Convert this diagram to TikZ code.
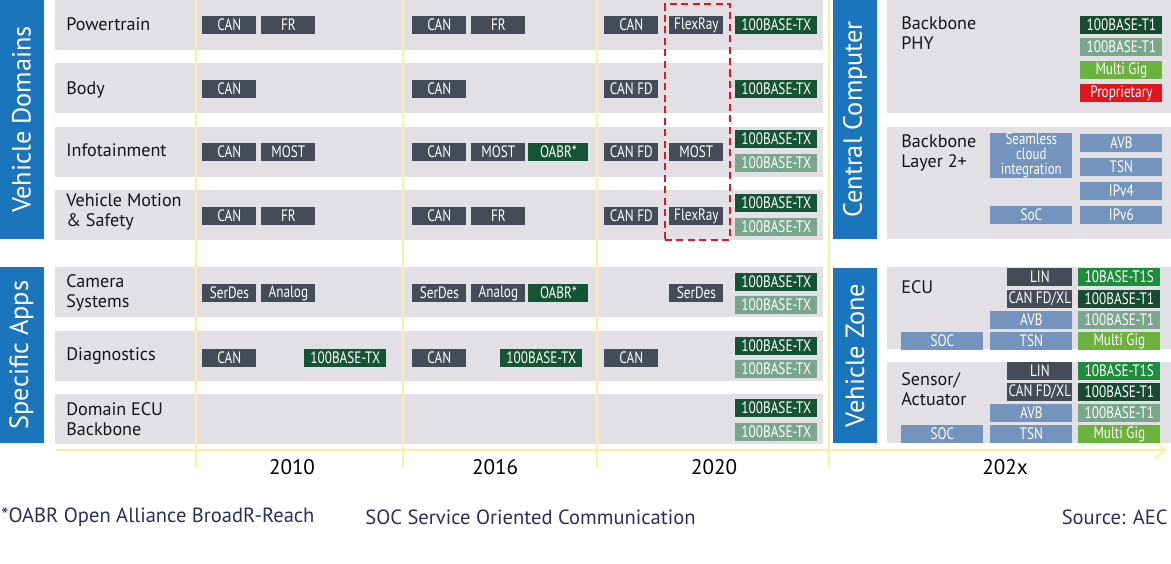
\documentclass[tikz,border=0pt]{standalone}
\usepackage{fontspec}
\setmainfont{PT Sans}
\newfontfamily\chipfont{PT Sans}[FakeStretch=0.8]
\usepackage{xcolor}
\definecolor{barblue}{RGB}{27,117,188}
\definecolor{bandgray}{RGB}{226,224,229}
\definecolor{chipdark}{RGB}{70,75,88}
\definecolor{txdark}{RGB}{22,84,54}
\definecolor{txpale}{RGB}{122,166,142}
\definecolor{tonedark}{RGB}{24,76,50}
\definecolor{tones}{RGB}{30,140,60}
\definecolor{multigig}{RGB}{108,178,62}
\definecolor{propred}{RGB}{222,24,30}
\definecolor{steel}{RGB}{116,148,190}
\definecolor{yline}{RGB}{250,240,160}
\definecolor{notenavy}{RGB}{44,46,96}
\usepackage{tikz}
\usetikzlibrary{arrows.meta}

\begin{document}
\begin{tikzpicture}[
    x=0.2mm, y=-0.2mm,
    sidebar/.style ={rectangle, fill=barblue, text=white, rotate=90,
                   minimum height=8.8mm, inner sep=0pt,
                   font=\fontsize{15}{17}\selectfont},
    band/.style   ={rectangle, fill=bandgray, anchor=north west,
                   inner sep=0pt, minimum width=153.6mm, minimum height=9.9mm},
    panel/.style  ={rectangle, fill=bandgray, anchor=north west,
                   inner sep=0pt, minimum width=56.8mm},
    rowlabel/.style ={anchor=west, align=left, text=black!92, inner sep=0pt,
                   font=\fontsize{10.3}{11.6}\selectfont},
    chip/.style   ={rectangle, anchor=north west, inner sep=0pt,
                   minimum width=10.8mm, minimum height=3.5mm, text=white,
                   font=\chipfont\fontsize{9.4}{9.6}\selectfont, align=center,
                   fill=chipdark},
    wide/.style   ={chip, minimum width=16.4mm},
    txd/.style    ={wide, fill=txdark},
    txp/.style    ={wide, fill=txpale},
    t1d/.style    ={wide, fill=tonedark},
    t1s/.style    ={wide, fill=tones},
    mgig/.style   ={wide, fill=multigig},
    prop/.style   ={wide, fill=propred},
    stl/.style    ={wide, fill=steel},
    zonedark/.style ={chip, minimum width=13mm},
    gridline/.style ={yline, line width=1pt},
    year/.style   ={text=black, font=\fontsize{12}{14}\selectfont},
    note/.style   ={text=notenavy, inner sep=0pt, font=\fontsize{11.7}{13}\selectfont}
]
\useasboundingbox (0,0) rectangle (1171,564);

%% --- side bars ---
\node[sidebar, minimum width=47.8mm] (vd) at (21.5,119.5) {Vehicle Domains};
\node[sidebar, minimum width=35.2mm] (sa) at (21.5,355) {Specific Apps};
\node[sidebar, minimum width=47.8mm] (cc) at (855,119.5) {Central Computer};
\node[sidebar, minimum width=35mm]   (vz) at (855,355.5) {Vehicle Zone};

%% --- rows of the left part ---
\node[band] (pt)  at (55,0)   {};
\node[band] (bo)  at (55,63)  {};
\node[band] (inf) at (55,127) {};
\node[band] (vm)  at (55,190) {};
\node[band] (cs)  at (55,267) {};
\node[band] (dg)  at (55,331) {};
\node[band] (de)  at (55,394) {};

%% --- panels of the right part ---
\node[panel, minimum height=22.6mm] (phy) at (887,0)   {};
\node[panel, minimum height=22.4mm] (lay) at (887,127) {};
\node[panel, minimum height=16.4mm] (ecu) at (887,267) {};
\node[panel, minimum height=16.2mm] (sen) at (887,362) {};

%% --- time grid ---
\draw[gridline] (196,0) -- (196,468);
\draw[gridline] (403,0) -- (403,468);
\draw[gridline] (597,0) -- (597,468);
\draw[gridline] (829,0) -- (829,468);
\coordinate (t0) at (56,450);
\coordinate (t1) at (1167,450);
\draw[gridline, -{Straight Barb[length=2.2mm, width=3.6mm]}] (t0) -- (t1);

%% --- row labels ---
\node[rowlabel] (lpt)  at (66,24)  {Powertrain};
\node[rowlabel] (lbo)  at (66,90)  {Body};
\node[rowlabel] (linf) at (66,150) {Infotainment};
\node[rowlabel] (lvm)  at (66,212) {Vehicle Motion\\\& Safety};
\node[rowlabel] (lcs)  at (66,293) {Camera\\Systems};
\node[rowlabel] (ldg)  at (66,356) {Diagnostics};
\node[rowlabel] (lde)  at (66,419) {Domain ECU\\Backbone};
\node[rowlabel, anchor=north west] (lphy) at (901,16)  {Backbone\\PHY};
\node[rowlabel, anchor=north west] (llay) at (901,134) {Backbone\\Layer 2+};
\node[rowlabel] (lecu) at (901,287) {ECU};
\node[rowlabel] (lsen) at (901,389) {Sensor/\\Actuator};

%% --- Powertrain ---
\node[chip] (pt1) at (202,16) {CAN};
\node[chip] (pt2) at (261,16) {FR};
\node[chip] (pt3) at (412,16) {CAN};
\node[chip] (pt4) at (471,16) {FR};
\node[chip] (pt5) at (604,16) {CAN};
\node[chip] (pt6) at (669,16) {FlexRay};
\node[txd]  (pt7) at (735,16) {100BASE-TX};
%% --- Body ---
\node[chip] (bo1) at (202,80) {CAN};
\node[chip] (bo2) at (412,80) {CAN};
\node[chip] (bo3) at (604,80) {CAN FD};
\node[txd]  (bo4) at (735,80) {100BASE-TX};
%% --- Infotainment ---
\node[chip] (in1) at (202,143) {CAN};
\node[chip] (in2) at (261,143) {MOST};
\node[chip] (in3) at (412,143) {CAN};
\node[chip] (in4) at (471,143) {MOST};
\node[chip, fill=txdark, minimum width=12mm] (in5) at (528,143) {OABR*};
\node[chip] (in6) at (604,143) {CAN FD};
\node[chip] (in7) at (669,143) {MOST};
\node[txd]  (in8) at (735,130) {100BASE-TX};
\node[txp]  (in9) at (735,154) {100BASE-TX};
%% --- Vehicle Motion & Safety ---
\node[chip] (vm1) at (202,207) {CAN};
\node[chip] (vm2) at (261,207) {FR};
\node[chip] (vm3) at (412,207) {CAN};
\node[chip] (vm4) at (471,207) {FR};
\node[chip] (vm5) at (604,207) {CAN FD};
\node[chip] (vm6) at (669,207) {FlexRay};
\node[txd]  (vm7) at (735,194) {100BASE-TX};
\node[txp]  (vm8) at (735,218) {100BASE-TX};
%% --- FlexRay column ---
\node[draw=propred, line width=1.1pt, dash pattern=on 4pt off 2.5pt,
      anchor=north west, minimum width=13mm, minimum height=47.2mm,
      inner sep=0pt] (frbox) at (664,3) {};

%% --- Camera Systems ---
\node[chip] (cs1) at (202,284) {SerDes};
\node[chip] (cs2) at (261,284) {Analog};
\node[chip] (cs3) at (412,284) {SerDes};
\node[chip] (cs4) at (471,284) {Analog};
\node[chip, fill=txdark, minimum width=12mm] (cs5) at (528,284) {OABR*};
\node[chip] (cs6) at (669,284) {SerDes};
\node[txd]  (cs7) at (735,273) {100BASE-TX};
\node[txp]  (cs8) at (735,296) {100BASE-TX};
%% --- Diagnostics ---
\node[chip] (dg1) at (202,349) {CAN};
\node[txd]  (dg2) at (304,349) {100BASE-TX};
\node[chip] (dg3) at (412,349) {CAN};
\node[txd]  (dg4) at (500,349) {100BASE-TX};
\node[chip] (dg5) at (604,349) {CAN};
\node[txd]  (dg6) at (735,337) {100BASE-TX};
\node[txp]  (dg7) at (735,360) {100BASE-TX};
%% --- Domain ECU Backbone ---
\node[txd]  (de1) at (735,399) {100BASE-TX};
\node[txp]  (de2) at (735,423) {100BASE-TX};

%% --- Backbone PHY ---
\node[t1d]  (ph1) at (1080,16) {100BASE-T1};
\node[txp]  (ph2) at (1080,38) {100BASE-T1};
\node[mgig] (ph3) at (1080,61) {Multi Gig};
\node[prop] (ph4) at (1080,84) {Proprietary};
%% --- Backbone Layer 2+ ---
\node[stl, minimum height=8.6mm, font=\chipfont\fontsize{9.2}{8.5}\selectfont]
      (ly1) at (990,133) {Seamless\\cloud\\integration};
\node[stl]  (ly2) at (1080,134) {AVB};
\node[stl]  (ly3) at (1080,158) {TSN};
\node[stl]  (ly4) at (1080,182) {IPv4};
\node[stl]  (ly5) at (1080,206) {IPv6};
\node[stl]  (ly6) at (990,206)  {SoC};

%% --- ECU ---
\node[zonedark] (ec1) at (1007,268) {LIN};
\node[t1s]      (ec2) at (1078,268) {10BASE-T1S};
\node[zonedark] (ec3) at (1007,290) {CAN FD/XL};
\node[t1d]      (ec4) at (1078,290) {100BASE-T1};
\node[stl]      (ec5) at (990,311)  {AVB};
\node[txp]      (ec6) at (1078,311) {100BASE-T1};
\node[stl]      (ec7) at (901,332)  {SOC};
\node[stl]      (ec8) at (990,332)  {TSN};
\node[mgig]     (ec9) at (1078,332) {Multi Gig};
%% --- Sensor/Actuator ---
\node[zonedark] (se1) at (1007,362) {LIN};
\node[t1s]      (se2) at (1078,362) {10BASE-T1S};
\node[zonedark] (se3) at (1007,383) {CAN FD/XL};
\node[t1d]      (se4) at (1078,383) {100BASE-T1};
\node[stl]      (se5) at (990,404)  {AVB};
\node[txp]      (se6) at (1078,404) {100BASE-T1};
\node[stl]      (se7) at (901,425)  {SOC};
\node[stl]      (se8) at (990,425)  {TSN};
\node[mgig]     (se9) at (1078,425) {Multi Gig};

%% --- years ---
\node[year] (y10) at (292,467)  {2010};
\node[year] (y16) at (495,467)  {2016};
\node[year] (y20) at (714,467)  {2020};
\node[year] (y2x) at (1005,467) {202x};

%% --- notes ---
\node[note, anchor=west] (n1) at (1,517)    {*OABR Open Alliance BroadR-Reach};
\node[note, anchor=west] (n2) at (365,517)  {SOC Service Oriented Communication};
\node[note, anchor=east] (n3) at (1168,517) {Source: AEC};
\end{tikzpicture}
\end{document}
